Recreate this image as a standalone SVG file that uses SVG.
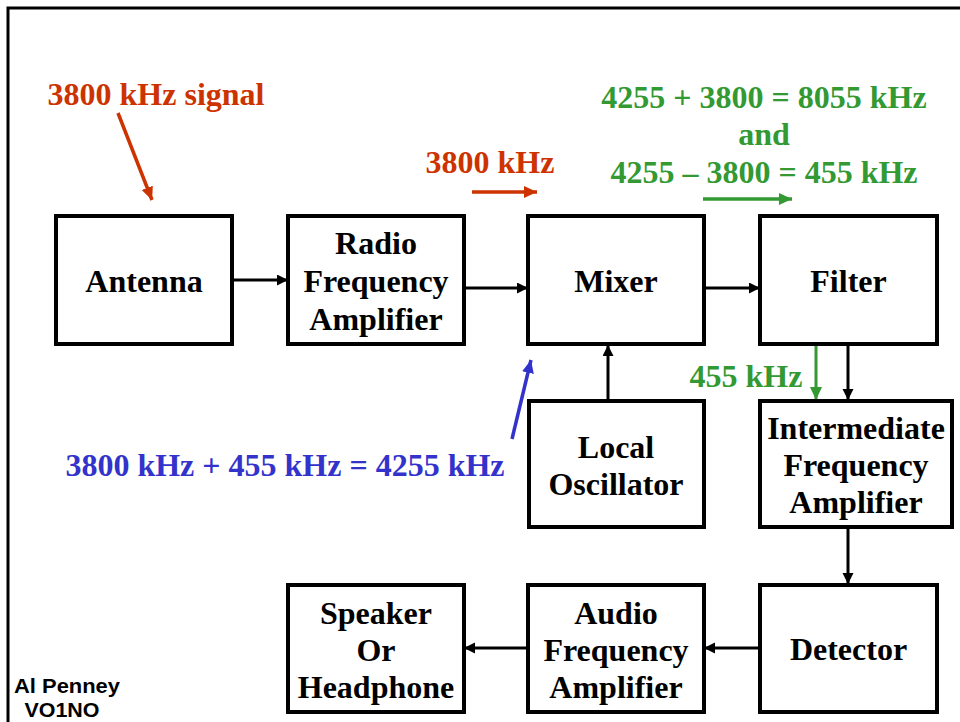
<svg xmlns="http://www.w3.org/2000/svg" width="960" height="722" viewBox="0 0 960 722">
<style>
.box{fill:#fff;stroke:#000;stroke-width:4}
.lbl{font-family:"Liberation Serif","Times New Roman",serif;font-weight:bold;font-size:32px;fill:#000;text-anchor:middle}
.ann{font-family:"Liberation Serif","Times New Roman",serif;font-weight:bold;font-size:32px;text-anchor:middle}
.red{fill:#CC3300}.green{fill:#339933}.blue{fill:#3333CC}
.conn{stroke:#000;stroke-width:3;fill:none}
.credit{font-family:"Liberation Sans",Arial,sans-serif;font-weight:bold;font-size:20px;fill:#000;text-anchor:middle}
</style>
<defs>
<marker id="ab" markerUnits="userSpaceOnUse" markerWidth="12" markerHeight="12" refX="11" refY="5.5" orient="auto"><path d="M0,0 L11,5.5 L0,11 Z" fill="#000"/></marker>
<marker id="ar" markerUnits="userSpaceOnUse" markerWidth="14" markerHeight="14" refX="13" refY="6" orient="auto"><path d="M0,0 L13,6 L0,12 Z" fill="#CC3300"/></marker>
<marker id="ag" markerUnits="userSpaceOnUse" markerWidth="14" markerHeight="14" refX="13" refY="6" orient="auto"><path d="M0,0 L13,6 L0,12 Z" fill="#339933"/></marker>
<marker id="abl" markerUnits="userSpaceOnUse" markerWidth="14" markerHeight="14" refX="13" refY="6" orient="auto"><path d="M0,0 L13,6 L0,12 Z" fill="#3333CC"/></marker>
</defs>
<rect width="960" height="722" fill="#fff"/>
<path d="M8,722 V8 H960" fill="none" stroke="#000" stroke-width="3"/>

<g id="connectors">
<line class="conn" x1="232" y1="280" x2="288" y2="280" marker-end="url(#ab)"/>
<line class="conn" x1="464" y1="288" x2="528" y2="288" marker-end="url(#ab)"/>
<line class="conn" x1="704" y1="288" x2="760" y2="288" marker-end="url(#ab)"/>
<line class="conn" x1="608" y1="400" x2="608" y2="345" marker-end="url(#ab)"/>
<line class="conn" x1="848" y1="344" x2="848" y2="400" marker-end="url(#ab)"/>
<line class="conn" x1="848" y1="528" x2="848" y2="584" marker-end="url(#ab)"/>
<line class="conn" x1="760" y1="648" x2="704" y2="648" marker-end="url(#ab)"/>
<line class="conn" x1="528" y1="648" x2="464" y2="648" marker-end="url(#ab)"/>
<line x1="118" y1="113" x2="152" y2="200" stroke="#CC3300" stroke-width="3.5" marker-end="url(#ar)"/>
<line x1="472" y1="192" x2="537" y2="192" stroke="#CC3300" stroke-width="3.5" marker-end="url(#ar)"/>
<line x1="703" y1="199" x2="792" y2="199" stroke="#339933" stroke-width="3.5" marker-end="url(#ag)"/>
<line x1="816" y1="344" x2="816" y2="400" stroke="#339933" stroke-width="3" marker-end="url(#ag)"/>
<line x1="512" y1="439" x2="531" y2="360" stroke="#3333CC" stroke-width="3.5" marker-end="url(#abl)"/>
</g>

<g id="antenna"><rect class="box" x="56" y="216" width="176" height="128"/><text class="lbl" x="144" y="292">Antenna</text></g>
<g id="rf-amplifier"><rect class="box" x="288" y="216" width="176" height="128"/><text class="lbl" x="376" y="254">Radio</text><text class="lbl" x="376" y="292">Frequency</text><text class="lbl" x="376" y="330">Amplifier</text></g>
<g id="mixer"><rect class="box" x="528" y="216" width="176" height="128"/><text class="lbl" x="616" y="292">Mixer</text></g>
<g id="filter"><rect class="box" x="760" y="216" width="177" height="128"/><text class="lbl" x="848.5" y="292">Filter</text></g>
<g id="local-oscillator"><rect class="box" x="529" y="401" width="175" height="126"/><text class="lbl" x="616" y="458">Local</text><text class="lbl" x="616" y="495">Oscillator</text></g>
<g id="if-amplifier"><rect class="box" x="760" y="401" width="192" height="126"/><text class="lbl" x="856" y="439">Intermediate</text><text class="lbl" x="856" y="476">Frequency</text><text class="lbl" x="856" y="513">Amplifier</text></g>
<g id="detector"><rect class="box" x="760" y="585" width="177" height="127"/><text class="lbl" x="848.5" y="660">Detector</text></g>
<g id="af-amplifier"><rect class="box" x="528" y="585" width="176" height="127"/><text class="lbl" x="616" y="624">Audio</text><text class="lbl" x="616" y="661">Frequency</text><text class="lbl" x="616" y="698">Amplifier</text></g>
<g id="speaker"><rect class="box" x="288" y="585" width="176" height="127"/><text class="lbl" x="376" y="624">Speaker</text><text class="lbl" x="376" y="661">Or</text><text class="lbl" x="376" y="698">Headphone</text></g>

<g id="annotations">
<text class="ann red" x="156" y="105">3800 kHz signal</text>
<text class="ann red" x="490" y="173">3800 kHz</text>
<text class="ann green" x="764" y="108">4255 + 3800 = 8055 kHz</text>
<text class="ann green" x="764" y="145">and</text>
<text class="ann green" x="764" y="183">4255 – 3800 = 455 kHz</text>
<text class="ann green" x="746" y="387">455 kHz</text>
<text class="ann blue" x="285" y="476">3800 kHz + 455 kHz = 4255 kHz</text>
<text class="credit" x="67" y="693" textLength="106" lengthAdjust="spacingAndGlyphs">Al Penney</text>
<text class="credit" x="62" y="717" textLength="75" lengthAdjust="spacingAndGlyphs">VO1NO</text>
</g>
</svg>
